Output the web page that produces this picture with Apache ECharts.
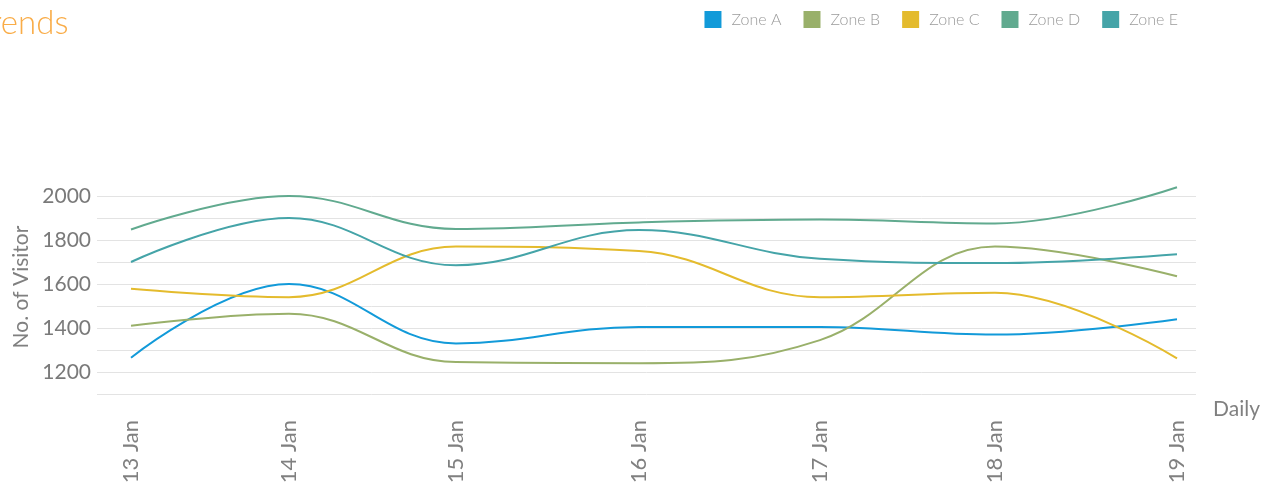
<!DOCTYPE html>
<html>
<head>
<meta charset="utf-8">
<script src="https://cdn.jsdelivr.net/npm/echarts@6/dist/echarts.min.js"></script>
<style>
html,body{margin:0;padding:0;background:#fff;}
#chart{width:1274px;height:489px;}
</style>
</head>
<body>
<div id="chart"></div>
<script>
// Day of January at which each reading was taken
var xDays = [13, 13.906, 14.864, 15.914, 16.952, 17.956, 19];
var dayLabels = ['13 Jan', '14 Jan', '15 Jan', '16 Jan', '17 Jan', '18 Jan', '19 Jan'];
var seriesNames = ['Zone A', 'Zone B', 'Zone C', 'Zone D', 'Zone E'];
var zoneA = [1265, 1600, 1330, 1405, 1405, 1370, 1440];
var zoneB = [1410, 1465, 1245, 1240, 1345, 1770, 1635];
var zoneC = [1578, 1540, 1770, 1750, 1540, 1560, 1262];
var zoneD = [1848, 2000, 1850, 1880, 1893, 1875, 2040];
var zoneE = [1700, 1900, 1685, 1845, 1715, 1695, 1735];
var yTicks = [1200, 1400, 1600, 1800, 2000];

var colors = ['#129ad9', '#99b06a', '#e4bb2d', '#61aa8f', '#45a4a8'];
var allData = [zoneA, zoneB, zoneC, zoneD, zoneE];
var FONT = 'Lato, "Source Sans Pro", "Open Sans", sans-serif';

var chart = echarts.init(document.getElementById('chart'), null, {renderer: 'canvas'});
var series = seriesNames.map(function (name, k) {
  return {
    name: name,
    type: 'line',
    smooth: 0.4,
    symbol: 'none',
    clip: false,
    lineStyle: {width: 2, color: colors[k]},
    itemStyle: {color: colors[k]},
    data: xDays.map(function (x, i) { return [x, allData[k][i]]; })
  };
});

chart.setOption({
  animation: false,
  color: colors,
  title: {
    text: 'Trends',
    left: -30,
    top: 2,
    textStyle: {color: '#f9ac47', fontSize: 33, fontWeight: 300, fontFamily: FONT}
  },
  legend: {
    data: seriesNames,
    right: 91,
    top: 6,
    icon: 'rect',
    itemWidth: 17,
    itemHeight: 17,
    itemGap: 22,
    textStyle: {color: '#9a9a9a', fontSize: 16, fontWeight: 300, fontFamily: FONT, padding: [0, 0, 0, 5]}
  },
  grid: {left: 97, right: 78, top: 196, bottom: 95, containLabel: false},
  xAxis: {
    type: 'value',
    min: 12.805,
    max: 19.109,
    name: 'Daily',
    nameLocation: 'end',
    nameGap: 17,
    nameTextStyle: {color: '#808080', fontSize: 21, fontFamily: FONT, verticalAlign: 'top', padding: [5, 0, 0, 0]},
    axisLine: {show: false},
    axisTick: {show: false},
    splitLine: {show: false},
    axisLabel: {
      customValues: xDays,
      rotate: 90,
      margin: 26,
      color: '#808080',
      fontSize: 22,
      fontFamily: FONT,
      formatter: function (v) {
        var best = 0;
        for (var i = 0; i < xDays.length; i++) {
          if (Math.abs(xDays[i] - v) < Math.abs(xDays[best] - v)) best = i;
        }
        return dayLabels[best];
      }
    }
  },
  yAxis: {
    type: 'value',
    min: 1100,
    max: 2000,
    interval: 100,
    name: 'No. of Visitor',
    nameLocation: 'middle',
    nameGap: 64,
    nameTextStyle: {color: '#808080', fontSize: 21, fontFamily: FONT, padding: [0, 0, 0, 16]},
    axisLine: {show: false},
    axisTick: {show: false},
    splitLine: {lineStyle: {color: '#e3e3e3', width: 1}},
    axisLabel: {
      color: '#7a7a7a',
      fontSize: 21,
      fontFamily: FONT,
      margin: 6,
      formatter: function (v) { return yTicks.indexOf(v) >= 0 ? String(v) : ''; }
    }
  },
  series: series
});
</script>
</body>
</html>
